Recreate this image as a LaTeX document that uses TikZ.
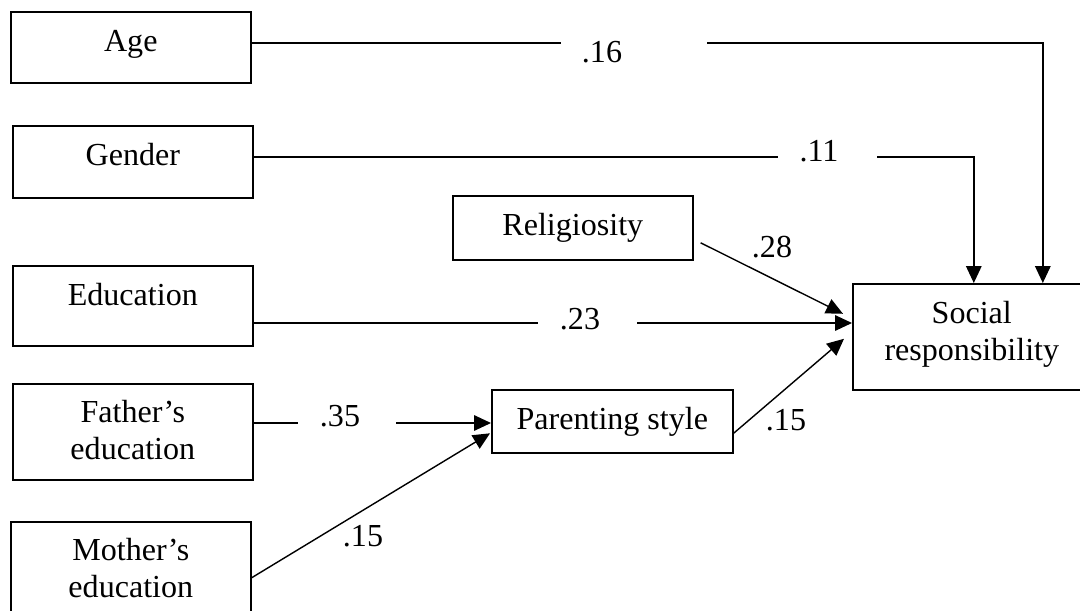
\documentclass[tikz,border=0pt]{standalone}
\usepackage{fontspec}
\setmainfont{Liberation Serif}
\usepackage{tikz}
\usetikzlibrary{arrows.meta,positioning,calc}

\tikzset{
  varbox/.style={draw, line width=1.1pt, anchor=north west, inner xsep=0pt, inner ysep=0pt,
    minimum width=6cm, align=center, text height=1cm},
  link/.style={line width=1pt},
  arr/.style={link, -{Triangle[length=12pt,width=11pt]}},
  coef/.style={inner sep=0pt}
}

\begin{document}
\begin{tikzpicture}[x=0.025cm, y=-0.025cm, font=\fontsize{22.8}{26.3}\selectfont]
\useasboundingbox (0,0) rectangle (1080,611);
\clip (0,0) rectangle (1080,611);

% variables
\node[varbox, text depth=0.775cm] (age) at (10,11) {Age};
\node[varbox, text depth=0.8cm] (gender) at (12,125) {Gender};
\node[varbox, text depth=1cm] (edu) at (12,265) {Education};
\node[varbox, text height=1.9cm, text depth=0.5cm] (father) at (12,383) {Father’s\\education};
\node[varbox, text height=1.9cm, text depth=0.5cm] (mother) at (10,521) {Mother’s\\education};
\node[varbox, text depth=0.6cm] (relig) at (452,195) {Religiosity};
\node[varbox, minimum width=6.025cm, text depth=0.575cm] (parent) at (491,389) {Parenting style};
\node[varbox, minimum width=5.95cm, text height=1.925cm, text depth=0.725cm] (social) at (852,283) {Social\\responsibility};

% gaps in the lines for the coefficients
\coordinate (a1) at (561,43);  \coordinate (a2) at (707,43);
\coordinate (g1) at (778,157); \coordinate (g2) at (877,157);
\coordinate (e1) at (538,323); \coordinate (e2) at (637,323);
\coordinate (f1) at (298,423); \coordinate (f2) at (396,423);

\draw[link] (age.east |- a1) -- (a1);
\draw[arr] (a2) -| ([xshift=1.775cm]social.north);
\draw[link] (gender.east |- g1) -- (g1);
\draw[arr] (g2) -| ([xshift=0.05cm]social.north);
\draw[link] (edu.east |- e1) -- (e1);
\draw[arr] (e2) -- (social.west |- e2);
\draw[arr] ([shift={(0.175cm,-0.375cm)}]relig.east) -- ([shift={(-0.225cm,0.575cm)}]social.west);
\draw[arr] ([yshift=-0.3cm]parent.east) -- ([shift={(-0.2cm,-0.05cm)}]social.west);
\draw[link] (father.east |- f1) -- (f1);
\draw[arr] (f2) -- (parent.west |- f2);
\draw[arr] ([yshift=-0.2cm]mother.east) -- ([shift={(-0.025cm,-0.3cm)}]parent.west);

% coefficients
\node[coef] (c16) at (602,52) {.16};
\node[coef] (c11) at (819,151) {.11};
\node[coef] (c28) at (772,247) {.28};
\node[coef] (c23) at (580,319) {.23};
\node[coef] (c15a) at (786,420) {.15};
\node[coef] (c35) at (340,416) {.35};
\node[coef] (c15b) at (363,536) {.15};
\end{tikzpicture}
\end{document}
